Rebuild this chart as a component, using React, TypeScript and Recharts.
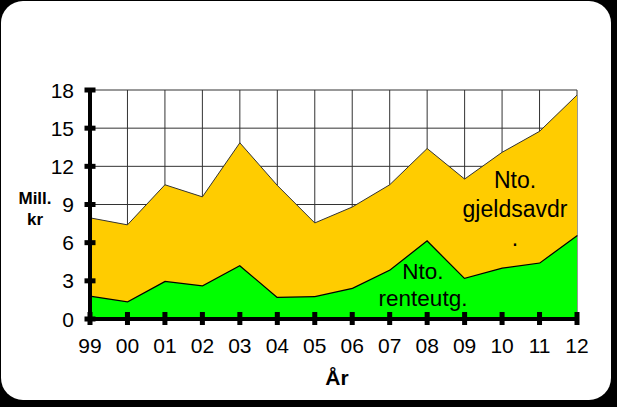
import React from 'react';
import { AreaChart, Area, XAxis, YAxis, CartesianGrid } from 'recharts';

const years = ['99', '00', '01', '02', '03', '04', '05', '06', '07', '08', '09', '10', '11', '12'];
const renteutg = [1.85, 1.4, 3.0, 2.65, 4.25, 1.75, 1.8, 2.45, 3.9, 6.2, 3.25, 4.05, 4.45, 6.6];
const gjeldsavdr = [6.1, 6.0, 7.55, 6.95, 9.6, 8.75, 5.75, 6.35, 6.65, 7.2, 7.75, 9.05, 10.3, 11.0];
const yTicks = [0, 3, 6, 9, 12, 15, 18];

const data = years.map((y, i) => ({ year: y, rente: renteutg[i], gjeld: gjeldsavdr[i] }));

const FONT = '"Liberation Sans", Arial, Helvetica, sans-serif';

const XTick = (props: any) => {
  const { x, y, payload } = props;
  return (
    <g>
      <rect x={x - 2.5} y={y - 7} width={5} height={13} fill="#000" />
      <text x={x} y={y + 34} textAnchor="middle" fontSize={21} fontFamily={FONT} fill="#000">
        {payload.value}
      </text>
    </g>
  );
};

const YTick = (props: any) => {
  const { x, y, payload } = props;
  return (
    <g>
      <rect x={x - 5.5} y={y - 2.5} width={11} height={5} fill="#000" />
      <text x={x - 16} y={y + 7.5} textAnchor="end" fontSize={21} fontFamily={FONT} fill="#000">
        {payload.value}
      </text>
    </g>
  );
};

const abs = (left: number, top: number, extra: any = {}) => ({
  position: 'absolute' as const,
  left,
  top,
  fontFamily: FONT,
  color: '#000',
  whiteSpace: 'nowrap' as const,
  ...extra,
});

export default function App() {
  return (
    <div style={{ position: 'absolute', left: 0, top: 0, width: 617, height: 407, background: '#000', overflow: 'hidden' }}>
      <div style={{ position: 'absolute', left: 1, top: 1, width: 610, height: 399, background: '#fff', borderRadius: 22 }} />
      <div style={{ position: 'absolute', left: 0, top: 0 }}>
        <AreaChart width={617} height={407} data={data} margin={{ top: 90, right: 40, left: 60, bottom: 48 }}>
          <CartesianGrid stroke="#333" strokeWidth={1} />
          <XAxis
            dataKey="year"
            axisLine={{ stroke: '#000', strokeWidth: 4 }}
            tickLine={false}
            tickSize={0}
            tickMargin={0}
            height={40}
            tick={<XTick />}
            interval={0}
          />
          <YAxis
            domain={[0, 18]}
            ticks={yTicks}
            axisLine={{ stroke: '#000', strokeWidth: 4 }}
            tickLine={false}
            tickSize={0}
            tickMargin={0}
            width={30}
            tick={<YTick />}
            interval={0}
          />
          <Area
            type="linear"
            dataKey="rente"
            stackId="a"
            fill="#00FF00"
            fillOpacity={1}
            stroke="#000"
            strokeWidth={2.5}
            isAnimationActive={false}
          />
          <Area
            type="linear"
            dataKey="gjeld"
            stackId="a"
            fill="#FFCC00"
            fillOpacity={1}
            stroke="#333"
            strokeWidth={1}
            isAnimationActive={false}
          />
        </AreaChart>
      </div>
      <div style={abs(13, 188, { fontSize: 17, fontWeight: 'bold', textAlign: 'center', lineHeight: '21px', width: 44 })}>
        Mill.<br />kr
      </div>
      <div style={abs(312, 366, { fontSize: 21, fontWeight: 'bold', width: 50, textAlign: 'center' })}>År</div>
      <div style={abs(449, 166, { fontSize: 23, textAlign: 'center', width: 132, lineHeight: '29px' })}>
        Nto.<br />gjeldsavdr<br />.
      </div>
      <div style={abs(363, 258, { fontSize: 22.5, textAlign: 'center', width: 120, lineHeight: '27px' })}>
        Nto.<br />renteutg.
      </div>
    </div>
  );
}
